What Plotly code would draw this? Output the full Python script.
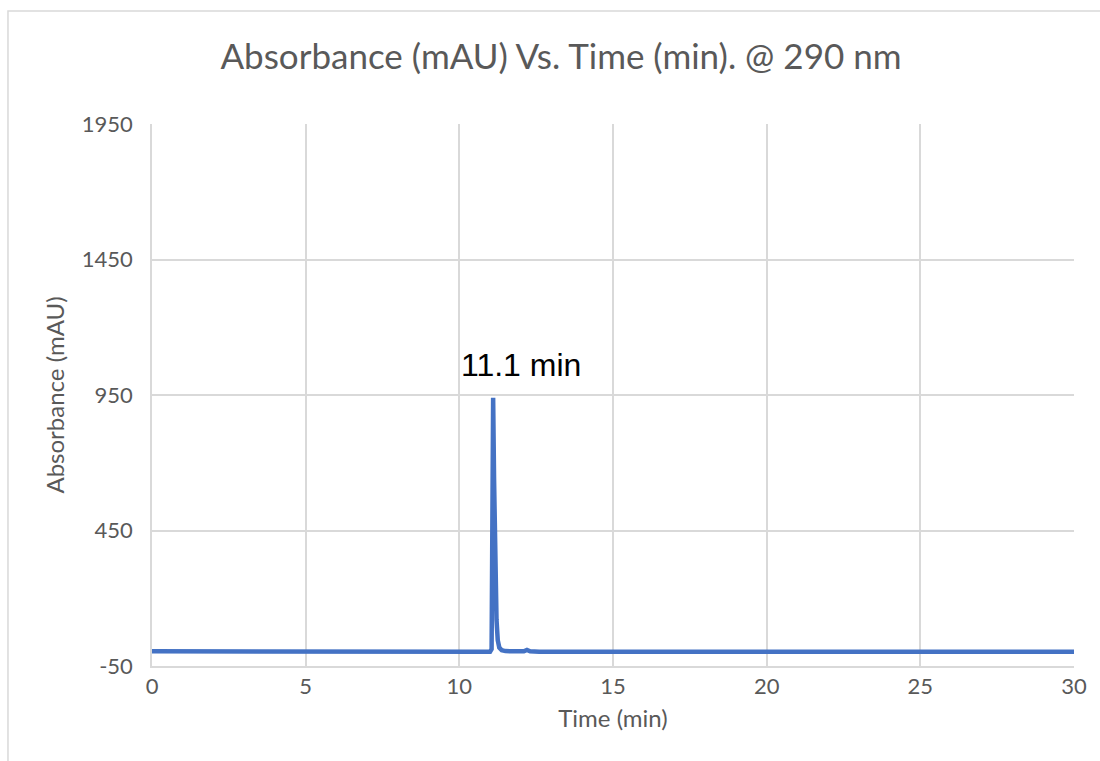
import plotly.graph_objects as go

# Chromatogram trace: retention time (min) and absorbance (mAU) at 290 nm
time_min = [0.0, 1.0, 2.0, 3.0, 4.0, 5.0, 6.0, 7.0, 8.0, 8.7, 8.8, 8.9, 9.5, 10.0,
             10.5, 11.0, 11.05, 11.08, 11.1, 11.13, 11.17, 11.21, 11.25, 11.3,
             11.38, 11.5, 11.8, 12.1, 12.2, 12.3, 12.6, 13.0, 14.0, 15.0, 16.0,
             17.0, 18.0, 19.0, 20.0, 21.0, 22.0, 23.0, 24.0, 25.0, 26.0, 27.0,
             28.0, 29.0, 30.0]
absorbance_mau = [4, 4, 4, 4, 4, 4, 4, 4, 4, 4, 7, 4, 3, 3,
                  3, 3, 12, 420, 940, 640, 330, 120, 45, 18,
                  8, 5, 4, 4, 9, 4, 3, 3, 3, 3, 3,
                  3, 3, 2, 2, 2, 2, 2, 2, 2, 3, 3,
                  3, 3, 3]

peak_time = 11.1
peak_label = "11.1 min"

x_ticks = [0, 5, 10, 15, 20, 25, 30]
y_ticks = [-50, 450, 950, 1450, 1950]

text_color = "#595959"
grid_color = "#D9D9D9"
line_color = "#4472C4"
font_family = "Lato, 'Open Sans', sans-serif"

fig = go.Figure()
fig.add_trace(go.Scatter(
    x=time_min, y=absorbance_mau, mode="lines",
    line=dict(color=line_color, width=4.5),
    showlegend=False, hoverinfo="x+y",
))

fig.add_annotation(
    x=peak_time + 0.9, y=1060, text=peak_label, showarrow=False,
    font=dict(family="'Liberation Sans', Arial, sans-serif", size=32, color="#000000"),
)

# outer chart-area frame
fig.add_shape(
    type="rect", xref="paper", yref="paper",
    x0=-0.1562, x1=1.2, y0=-0.4, y1=1.2085,
    line=dict(color=grid_color, width=1.5), layer="below",
)

fig.update_layout(
    width=1100, height=761,
    margin=dict(l=152, r=26, t=124, b=95),
    paper_bgcolor="white", plot_bgcolor="white",
    title=dict(
        text="Absorbance (mAU) Vs. Time (min). @ 290 nm",
        x=561 / 1100, xref="container", xanchor="center",
        y=1 - 57 / 761, yref="container", yanchor="middle",
        font=dict(family=font_family, size=35, color=text_color),
    ),
    font=dict(family=font_family, color=text_color),
    xaxis=dict(
        range=[0, 30], tickvals=x_ticks, ticktext=[str(v) for v in x_ticks],
        showgrid=True, gridcolor=grid_color, gridwidth=1.5,
        showline=True, linecolor=grid_color, linewidth=1.5,
        zeroline=False, ticks="", tickfont=dict(size=22, color=text_color),
        title=dict(text="Time (min)", font=dict(size=24, color=text_color), standoff=12),
    ),
    yaxis=dict(
        range=[-50, 1950], tickvals=y_ticks, ticktext=[str(v) for v in y_ticks],
        showgrid=True, gridcolor=grid_color, gridwidth=1.5,
        showline=True, linecolor=grid_color, linewidth=1.5,
        zeroline=False, ticks="", tickfont=dict(size=22, color=text_color),
        ticklabelstandoff=13,
        title=dict(text="Absorbance (mAU)", font=dict(size=24, color=text_color), standoff=10),
    ),
)

fig.write_html("out.html")
